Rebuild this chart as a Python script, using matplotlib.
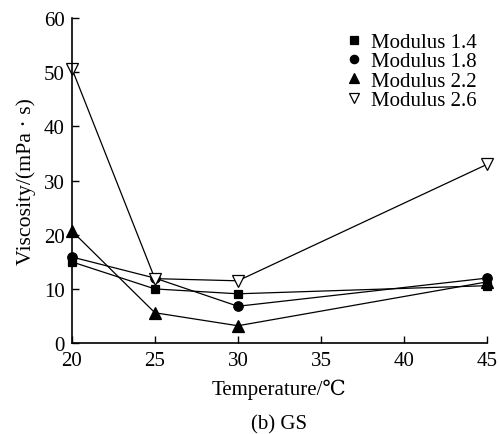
import matplotlib
matplotlib.use("Agg")
import matplotlib.pyplot as plt

plt.rcParams['font.family'] = ['Liberation Serif', 'DejaVu Serif']

temperature = [20, 25, 30, 45]
mod_14 = [15.0, 10.0, 9.1, 10.6]
mod_18 = [15.9, 12.0, 6.8, 12.0]
mod_22 = [20.7, 5.6, 3.2, 11.3]
mod_26 = [50.7, 11.9, 11.5, 33.0]

series = [
    ("Modulus 1.4", mod_14, "s", "black", 6.2),
    ("Modulus 1.8", mod_18, "o", "black", 6.8),
    ("Modulus 2.2", mod_22, "^", "black", 8.5),
    ("Modulus 2.6", mod_26, "v", "white", 8.5),
]
# marker sizes used in the legend (smaller than the plotted ones)
legend_ms = [5.5, 6.0, 7.5, 7.0]

fig = plt.figure(figsize=(4.99, 4.35), dpi=100)
ax = fig.add_axes([0.144, 0.209, 0.832, 0.747])

for label, vals, marker, face, ms in series:
    ax.plot(temperature, vals, color="black", lw=0.9, marker=marker,
            markersize=ms, markerfacecolor=face, markeredgecolor="black",
            markeredgewidth=0.9, label=label, clip_on=False)

ax.set_xlim(20, 45)
ax.set_ylim(0, 60)
ax.set_xticks([20, 25, 30, 35, 40, 45])
ax.set_yticks([0, 10, 20, 30, 40, 50, 60])
ax.tick_params(direction="in", length=5, width=1, labelsize=15)
ax.tick_params(axis="x", pad=6)
ax.tick_params(axis="y", pad=5)
for s in ["top", "right"]:
    ax.spines[s].set_visible(False)
for s in ["left", "bottom"]:
    ax.spines[s].set_linewidth(1.2)

ax.set_xlabel("Temperature/\u2103", fontsize=15, labelpad=6)
ax.set_ylabel("Viscosity/(mPa \u00b7 s)", fontsize=15.7, labelpad=6)

ax.legend(loc="upper right", bbox_to_anchor=(1.01, 1.0), frameon=False,
          fontsize=15, handlelength=0.8, handletextpad=0.4,
          labelspacing=-0.02, borderpad=0.2)
leg = ax.get_legend()
for line, ms in zip(leg.get_lines(), legend_ms):
    line.set_linestyle("none")
    line.set_markersize(ms)

fig.text(0.56, 0.023, "(b) GS", ha="center", va="center", fontsize=15)

fig.savefig("out.png", dpi=100)
